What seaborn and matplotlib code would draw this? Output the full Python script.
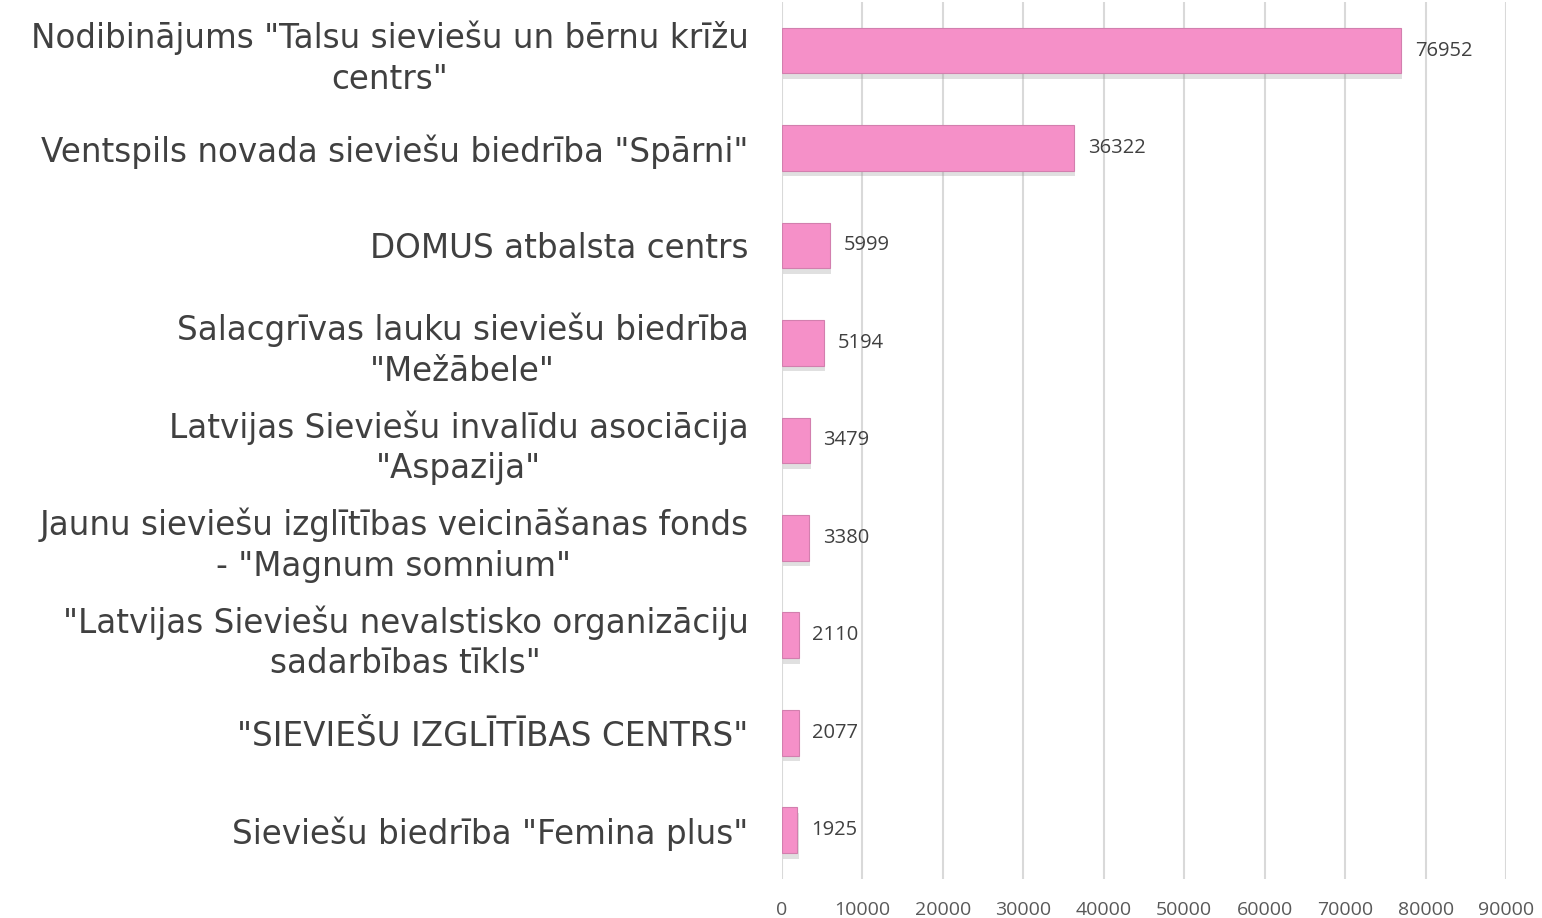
import matplotlib.pyplot as plt
import matplotlib.patheffects as pe
import pandas as pd
import seaborn as sns

# organisations and amounts
orgs = [
    'Nodibinājums "Talsu sieviešu un bērnu krīžu\ncentrs"',
    'Ventspils novada sieviešu biedrība "Spārni"',
    'DOMUS atbalsta centrs',
    'Salacgrīvas lauku sieviešu biedrība\n"Mežābele"',
    'Latvijas Sieviešu invalīdu asociācija\n"Aspazija"',
    'Jaunu sieviešu izglītības veicināšanas fonds\n- "Magnum somnium"',
    '"Latvijas Sieviešu nevalstisko organizāciju\nsadarbības tīkls"',
    '"SIEVIEŠU IZGLĪTĪBAS CENTRS"',
    'Sieviešu biedrība "Femina plus"',
]
amounts = [76952, 36322, 5999, 5194, 3479, 3380, 2110, 2077, 1925]
xticks = [0, 10000, 20000, 30000, 40000, 50000, 60000, 70000, 80000, 90000]

df = pd.DataFrame({'org': orgs, 'amount': amounts})

sns.set_style('white')
plt.rcParams['font.family'] = ['DejaVu Sans']

fig = plt.figure(figsize=(15.42, 9.18), dpi=100)
ax = fig.add_axes([0.507, 0.0425, 0.4697, 0.9555])

sns.barplot(data=df, x='amount', y='org', orient='h', color='#F590C8',
            width=0.47, edgecolor='#D27FAE', linewidth=0.8, saturation=1, ax=ax)

for bar in ax.patches:
    bar.set_path_effects([pe.SimplePatchShadow(offset=(1, -4), shadow_rgbFace='#999999', alpha=0.3),
                          pe.Normal()])

for i, v in enumerate(amounts):
    ax.text(v + 1700, i, str(v), va='center', ha='left', fontsize=14.5,
            color='#404040', family='Open Sans')

ax.set_xlim(0, 90000)
ax.set_xticks(xticks)
ax.set_xticklabels([str(t) for t in xticks], fontsize=14, color='#595959', family='Open Sans')
ax.tick_params(axis='x', length=0, pad=16)
ax.tick_params(axis='y', length=0, pad=24)
for lab in ax.get_yticklabels():
    lab.set_fontsize(23.5)
    lab.set_color('#404040')
    lab.set_multialignment('center')
    lab.set_linespacing(1.3)
ax.set_xlabel('')
ax.set_ylabel('')
ax.xaxis.grid(True, color='#D9D9D9', linewidth=1.5)
ax.set_axisbelow(True)
for s in ax.spines.values():
    s.set_visible(False)

fig.savefig('out.png', dpi=100)
